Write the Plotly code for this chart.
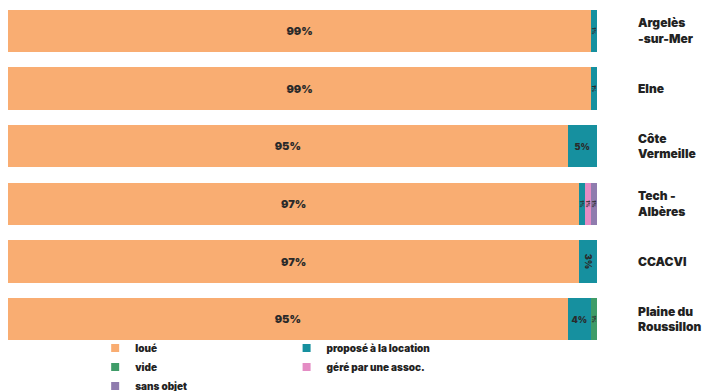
import plotly.graph_objects as go

# Territories (top to bottom) and share of dwellings by status, in %
territoires = ["Argelès<br>-sur-Mer", "Elne", "Côte<br>Vermeille", "Tech -<br>Albères",
               "CCACVI", "Plaine du<br>Roussillon"]
loue = [99, 99, 95, 97, 97, 95]
propose = [1, 1, 5, 1, 3, 4]
vide = [0, 0, 0, 0, 0, 1]
gere = [0, 0, 0, 1, 0, 0]
sans_objet = [0, 0, 0, 1, 0, 0]

# stacking order, colour and which legend column each status goes to
series = [
    ("loué", loue, "#f9ad72", "legend"),
    ("proposé à la location", propose, "#16909f", "legend2"),
    ("vide", vide, "#3f9c68", "legend"),
    ("géré par une assoc.", gere, "#e48cc4", "legend2"),
    ("sans objet", sans_objet, "#8f7cae", "legend"),
]
legend_order = ["loué", "vide", "sans objet", "proposé à la location", "géré par une assoc."]

FONT = "Inter"
fig = go.Figure()
for name, vals, color, leg in series:
    big = name == "loué"
    fig.add_trace(go.Bar(
        y=territoires, x=vals, name=name, orientation="h",
        marker=dict(color=color, line=dict(width=0)),
        text=[f"{v}%" if v else "" for v in vals],
        textposition="inside", insidetextanchor="middle",
        textfont=dict(family=FONT, size=11 if big else 9, color="#2a2a2a", weight=900),
        showlegend=False, hoverinfo="skip",
    ))

# faint pointer between each bar and its territory name
fig.add_trace(go.Scatter(
    x=[103.4] * len(territoires), y=territoires, mode="markers",
    marker=dict(symbol="triangle-right", size=24, color="#ececec"),
    cliponaxis=False, showlegend=False, hoverinfo="skip",
))

# small square swatches for the two legend columns
colors = {n: c for n, _, c, _ in series}
legs = {n: l for n, _, _, l in series}
for name in legend_order:
    fig.add_trace(go.Scatter(
        x=[None], y=[None], mode="markers", name=name,
        marker=dict(symbol="square", size=8, color=colors[name]),
        legend=legs[name], hoverinfo="skip",
    ))

leg_style = dict(yanchor="top", orientation="v", traceorder="normal",
                 font=dict(family=FONT, size=10, color="#222", weight=900),
                 itemwidth=30, tracegroupgap=0, bgcolor="rgba(0,0,0,0)")

fig.update_layout(
    width=727, height=391,
    barmode="stack", bargap=0.27,
    plot_bgcolor="white", paper_bgcolor="white",
    margin=dict(l=8, r=130, t=2, b=43, autoexpand=False),
    font=dict(family=FONT, color="#222"),
    xaxis=dict(range=[0, 100], visible=False),
    yaxis=dict(categoryorder="array", categoryarray=territoires,
               range=[len(territoires) - 0.5, -0.5], autorange=False,
               side="right", showgrid=False, showline=False, ticks="",
               ticklabelstandoff=40,
               tickfont=dict(family=FONT, size=12, color="#222", weight=900)),
    legend=dict(x=0.148, y=0.042, xanchor="left", **leg_style),
    legend2=dict(x=0.473, y=0.042, xanchor="left", **leg_style),
)

fig.write_html("out.html")
